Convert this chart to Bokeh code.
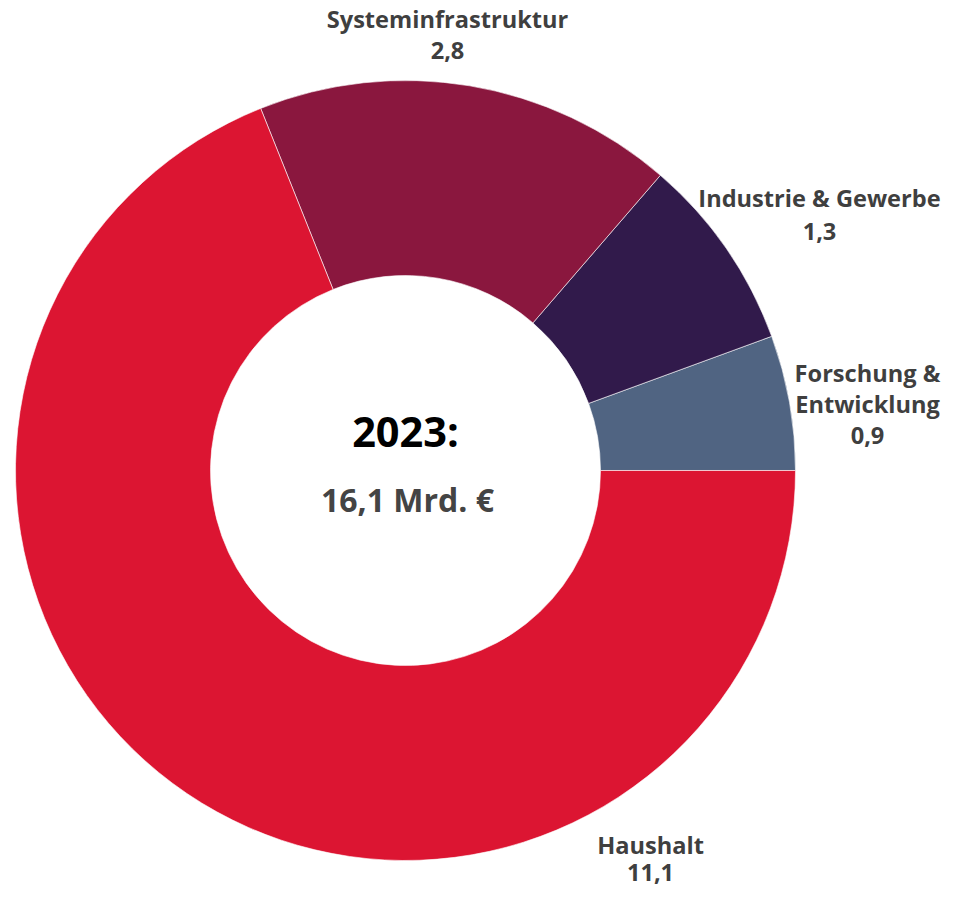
import math
from bokeh.plotting import figure
from bokeh.models import ColumnDataSource
from bokeh.core.properties import value
from bokeh.embed import file_html
from bokeh.resources import INLINE

# ---- data ----
categories = ["Forschung &\nEntwicklung", "Industrie & Gewerbe", "Systeminfrastruktur", "Haushalt"]
values = [0.9, 1.3, 2.8, 11.1]
colors = ["#506482", "#311A4B", "#8A173E", "#DC1532"]
year_label = "2023:"
unit_label = "Mrd. €"

# ---- layout ----
W, H = 945, 890
CX, CY = 405, 420          # donut centre in plot units (1 unit = 1 px)
R_OUT, R_IN = 390, 195
# label block anchors (x centre, y of first line) and line spacing, in plot units
label_pos = [(867, 518), (819, 693), (447, 872), (650, 46)]
label_line = [31.5, 34, 32, 28]
FONT = value("Open Sans")

def fmt(v):
    return f"{v:.1f}".replace(".", ",")

total = sum(values)
starts, ends = [], []
acc = 0.0
for v in values:
    starts.append(2 * math.pi * acc / total)
    acc += v
    ends.append(2 * math.pi * acc / total)

src = ColumnDataSource(dict(start=starts, end=ends, color=colors))

p = figure(width=W, height=H, x_range=(0, W), y_range=(0, H),
           output_backend="svg", toolbar_location=None, min_border=0)
p.axis.visible = False
p.grid.visible = False
p.outline_line_color = None
p.background_fill_color = "white"

p.annular_wedge(x=CX, y=CY, inner_radius=R_IN, outer_radius=R_OUT,
                start_angle="start", end_angle="end", color="color",
                line_color="white", line_width=0.6, source=src)

tx, ty, tt = [], [], []
for cat, v, (lx, ly), sp in zip(categories, values, label_pos, label_line):
    lines = cat.split("\n") + [fmt(v)]
    for i, ln in enumerate(lines):
        tx.append(lx)
        ty.append(ly - i * sp)
        tt.append(ln)
p.text(x=tx, y=ty, text=tt, text_font=FONT, text_font_style="bold",
       text_font_size="23.6px", text_color="#3F3F3F",
       text_align="center", text_baseline="middle")

p.text(x=[CX], y=[CY + 40], text=[year_label], text_font=FONT,
       text_font_style="bold", text_font_size="41.5px", text_color="#000000",
       text_align="center", text_baseline="middle")
p.text(x=[CX + 2], y=[CY - 29], text=[f"{fmt(total)} {unit_label}"], text_font=FONT,
       text_font_style="bold", text_font_size="32px", text_color="#444444",
       text_align="center", text_baseline="middle")

open("out.html", "w").write(file_html(p, INLINE))
